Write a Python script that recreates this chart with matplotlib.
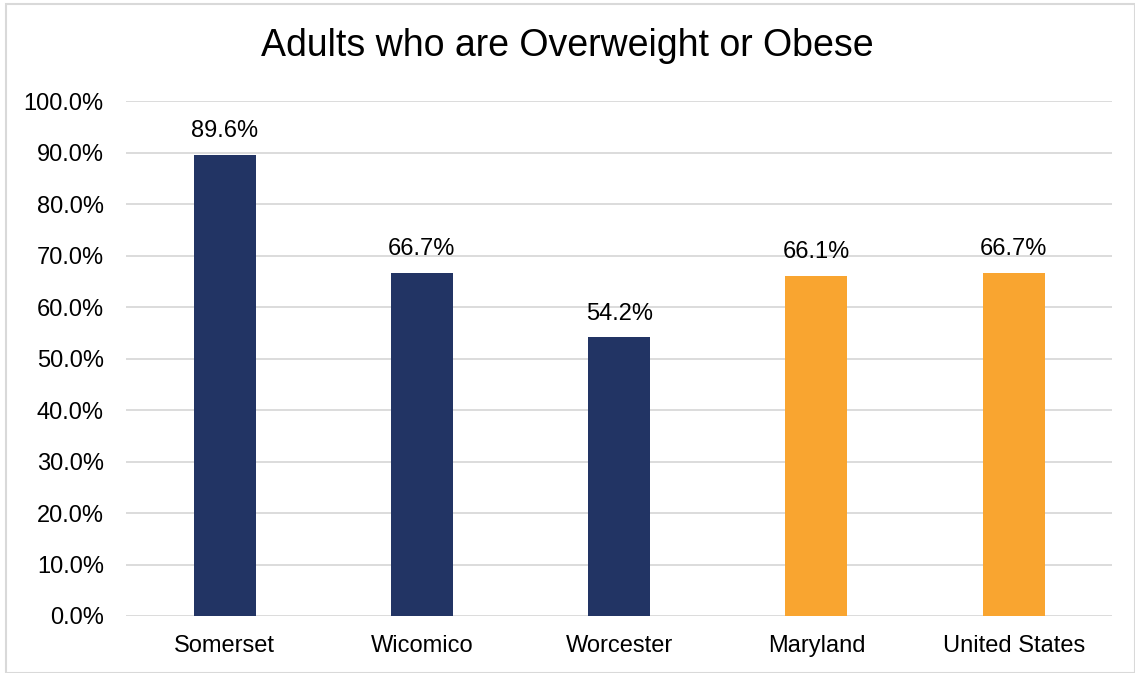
import matplotlib.pyplot as plt
from matplotlib.patches import Rectangle
from matplotlib.ticker import PercentFormatter

plt.rcParams['font.family'] = ['Liberation Sans', 'DejaVu Sans']

# data
regions = ["Somerset", "Wicomico", "Worcester", "Maryland", "United States"]
values = [89.6, 66.7, 54.2, 66.1, 66.7]
colors = ["#223464", "#223464", "#223464", "#F9A530", "#F9A530"]

fig = plt.figure(figsize=(11.35, 6.73), dpi=100)
ax = fig.add_axes([0.111, 0.0847, 0.869, 0.765])

x = range(len(regions))
bars = ax.bar(x, values, width=0.315, color=colors, zorder=3)

for b, v in zip(bars, values):
    ax.text(b.get_x() + b.get_width() / 2, v + 2.4, f"{v:.1f}%",
            ha="center", va="bottom", fontsize=17, color="#000000")

ax.set_xlim(-0.5, len(regions) - 0.5)
ax.set_ylim(0, 100)
ax.set_yticks(range(0, 101, 10))
ax.yaxis.set_major_formatter(PercentFormatter(decimals=1))
ax.set_xticks(list(x))
ax.set_xticklabels(regions)
ax.tick_params(axis="both", length=0, labelsize=17, colors="#000000")
ax.tick_params(axis="y", pad=16)
ax.tick_params(axis="x", pad=14)
ax.grid(axis="y", color="#D9D9D9", linewidth=1.3, zorder=0)
for s in ax.spines.values():
    s.set_visible(False)

fig.text(0.5, 0.931, "Adults who are Overweight or Obese", ha="center",
         va="center", fontsize=27)

# outer chart border
fig.patches.append(Rectangle((6 / 1135, 0), 1 - 6 / 1135, 1 - 4 / 673,
                             transform=fig.transFigure, fill=False,
                             edgecolor="#D9D9D9", linewidth=1.5))

fig.savefig("out.png", dpi=100)
